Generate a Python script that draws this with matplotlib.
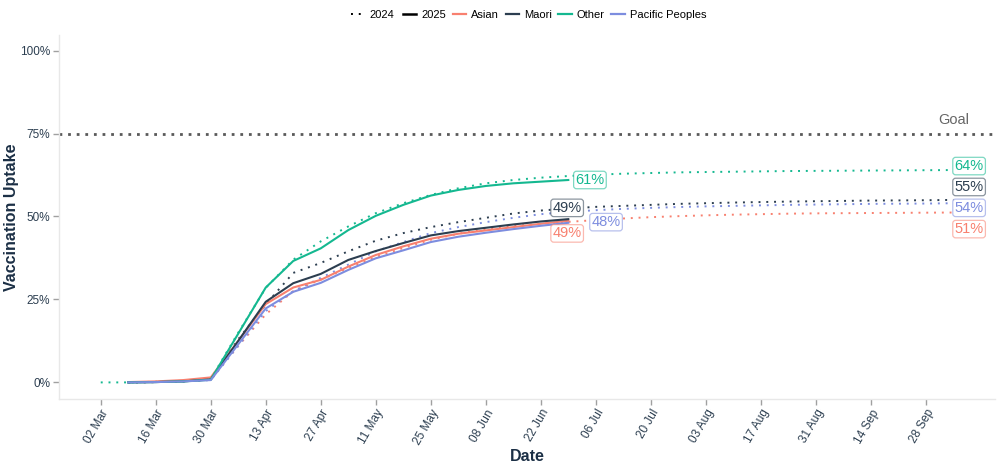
import matplotlib
matplotlib.use('Agg')
import matplotlib.pyplot as plt
import matplotlib.dates as mdates
import numpy as np
import pandas as pd
from matplotlib.lines import Line2D
from matplotlib.ticker import FuncFormatter

plt.rcParams['font.family'] = ['Liberation Sans', 'DejaVu Sans']

# ---------------- data ----------------
groups = ['Asian', 'Maori', 'Other', 'Pacific Peoples']
colors = {'Asian': '#F8806F', 'Maori': '#2C3E50', 'Other': '#14B890', 'Pacific Peoples': '#7D8DDF'}

# 2024 season plotted on the 2025 calendar (weekly)
dates_2024 = pd.date_range('2025-03-02', periods=32, freq='7D')
asian_2024 = [np.nan, 0, 0.1, 0.4, 0.9, 11, 20.5, 27.5, 31, 34.5, 37.8, 40.5, 43, 44.8, 46.2, 47.1,
              47.8, 48.4, 48.9, 49.4, 49.8, 50.1, 50.35, 50.55, 50.7, 50.85, 50.95, 51.0, 51.05,
              51.1, 51.15, 51.2]
maori_2024 = [np.nan, 0, 0.1, 0.3, 0.8, 13, 23.5, 33, 36, 39.5, 42.7, 45, 46.8, 48.3, 49.6, 50.9,
              51.8, 52.4, 52.9, 53.2, 53.5, 53.8, 54.0, 54.2, 54.35, 54.5, 54.6, 54.7, 54.8,
              54.85, 54.9, 55.0]
other_2024 = [0, 0, 0.2, 0.5, 1.0, 15, 28.5, 37, 42.5, 47, 51, 54, 56.5, 58.5, 60, 61, 61.7, 62.2,
              62.6, 62.9, 63.1, 63.3, 63.4, 63.5, 63.6, 63.7, 63.75, 63.8, 63.85, 63.9, 63.95, 64.0]
pacific_2024 = [np.nan, 0, 0.1, 0.3, 0.7, 11, 21.5, 27.5, 31.5, 35.5, 39.5, 42.3, 45, 46.8, 48.3,
                49.6, 50.7, 51.4, 51.9, 52.3, 52.6, 52.85, 53.05, 53.2, 53.35, 53.5, 53.6, 53.7,
                53.8, 53.85, 53.9, 54.0]

dates_2025 = pd.date_range('2025-03-09', periods=17, freq='7D')
asian_2025 = [0.1, 0.3, 0.7, 1.5, 12.5, 23.6, 28.6, 30.9, 34.9, 38.4, 41, 43.3, 44.8, 45.8, 46.8, 47.8, 48.7]
maori_2025 = [0, 0.1, 0.3, 0.9, 12.5, 24.3, 29.9, 32.7, 36.9, 39.6, 42, 44.3, 45.6, 46.6, 47.6, 48.5, 49.2]
other_2025 = [0, 0.1, 0.3, 0.8, 14.7, 28.6, 36.6, 40.4, 45.9, 50.2, 53.5, 56.3, 58, 59.2, 60, 60.5, 61]
pacific_2025 = [0, 0.1, 0.3, 0.7, 11.5, 22.3, 27.3, 30.0, 33.9, 37.4, 39.8, 42.3, 43.9, 45.1, 46.2, 47.2, 48.1]

goal = 75

series_2024 = {'Asian': asian_2024, 'Maori': maori_2024, 'Other': other_2024, 'Pacific Peoples': pacific_2024}
series_2025 = {'Asian': asian_2025, 'Maori': maori_2025, 'Other': other_2025, 'Pacific Peoples': pacific_2025}

# label placement (layout only): (x offset days, y offset %)
lab_off_2024 = {'Asian': (0.3, -5.0), 'Maori': (0.3, 3.9), 'Other': (0.3, 1.2), 'Pacific Peoples': (0.3, -1.4)}
lab_off_2025 = {'Asian': (-4.0, -3.8), 'Maori': (-4.0, 3.4), 'Other': (1.8, 0.0), 'Pacific Peoples': (5.9, 0.2)}

# ---------------- figure ----------------
fig = plt.figure(figsize=(10, 4.66), dpi=100)
ax = fig.add_axes([0.0587, 0.1438, 0.9363, 0.7811])

dot = (0, (1, 3))
for g in groups:
    ax.plot(dates_2024, series_2024[g], color=colors[g], lw=1.4, ls=dot, zorder=2)
for g in groups:
    ax.plot(dates_2025, series_2025[g], color=colors[g], lw=1.5, zorder=3)

ax.axhline(goal, color='#5a5a5a', lw=2.0, ls=(0, (1, 2.1)), zorder=1)
ax.text(pd.Timestamp('2025-10-09'), goal + 4.0, 'Goal', ha='right', va='center',
        fontsize=10.5, color='#666666')

def label(x, y, txt, c):
    ax.text(x, y, txt, ha='left', va='center', fontsize=10.5, color=c, zorder=5,
            bbox=dict(boxstyle='round,pad=0.12,rounding_size=0.2', fc='white',
                      ec=matplotlib.colors.to_rgba(c, 0.55), lw=0.9))

for g in groups:
    v = series_2024[g][-1]
    dx, dy = lab_off_2024[g]
    label(dates_2024[-1] + pd.Timedelta(days=dx), v + dy, f"{v:.0f}%", colors[g])
    v = series_2025[g][-1]
    dx, dy = lab_off_2025[g]
    label(dates_2025[-1] + pd.Timedelta(days=dx), v + dy, f"{v:.0f}%", colors[g])

# axes styling
ax.set_xlim(pd.Timestamp('2025-03-02') - pd.Timedelta(days=10.7),
            pd.Timestamp('2025-03-02') + pd.Timedelta(days=227.6))
ax.set_ylim(-5, 104.7)
ax.set_yticks([0, 25, 50, 75, 100])
ax.yaxis.set_major_formatter(FuncFormatter(lambda v, p: f"{v:.0f}%"))
xt = pd.date_range('2025-03-02', '2025-09-28', freq='14D')
ax.set_xticks(xt)
ax.xaxis.set_major_formatter(mdates.DateFormatter('%d %b'))

tickc = '#2C3E50'
ax.tick_params(axis='both', colors='#a0a0a0', length=4, width=1, labelsize=8.5, labelcolor=tickc, pad=2)
plt.setp(ax.get_xticklabels(), rotation=60, ha='right', rotation_mode='anchor')
for s in ['top', 'right']:
    ax.spines[s].set_visible(False)
for s in ['left', 'bottom']:
    ax.spines[s].set_color('#e8e8e8')
    ax.spines[s].set_linewidth(1)

ax.set_xlabel('Date', fontsize=11.5, fontweight='bold', color='#1B2F45')
ax.set_ylabel('Vaccination Uptake', fontsize=11.5, fontweight='bold', color='#1B2F45')
ax.yaxis.set_label_coords(-0.0425, 0.5)
ax.xaxis.set_label_coords(0.5, -0.137)

# legends
h1 = [Line2D([], [], color='black', lw=1.4, ls=dot), Line2D([], [], color='black', lw=1.8)]
leg1 = fig.legend(h1, ['2024', '2025'], loc='center', bbox_to_anchor=(0.3985, 0.968), ncol=2,
                  frameon=False, fontsize=8, handlelength=1.2, handletextpad=0.45, columnspacing=0.8)
h2 = [Line2D([], [], color=colors[g], lw=1.6) for g in groups]
leg2 = fig.legend(h2, groups, loc='center', bbox_to_anchor=(0.5795, 0.968), ncol=4,
                  frameon=False, fontsize=8, handlelength=1.2, handletextpad=0.45, columnspacing=0.6)

fig.savefig('out.png', dpi=100)
